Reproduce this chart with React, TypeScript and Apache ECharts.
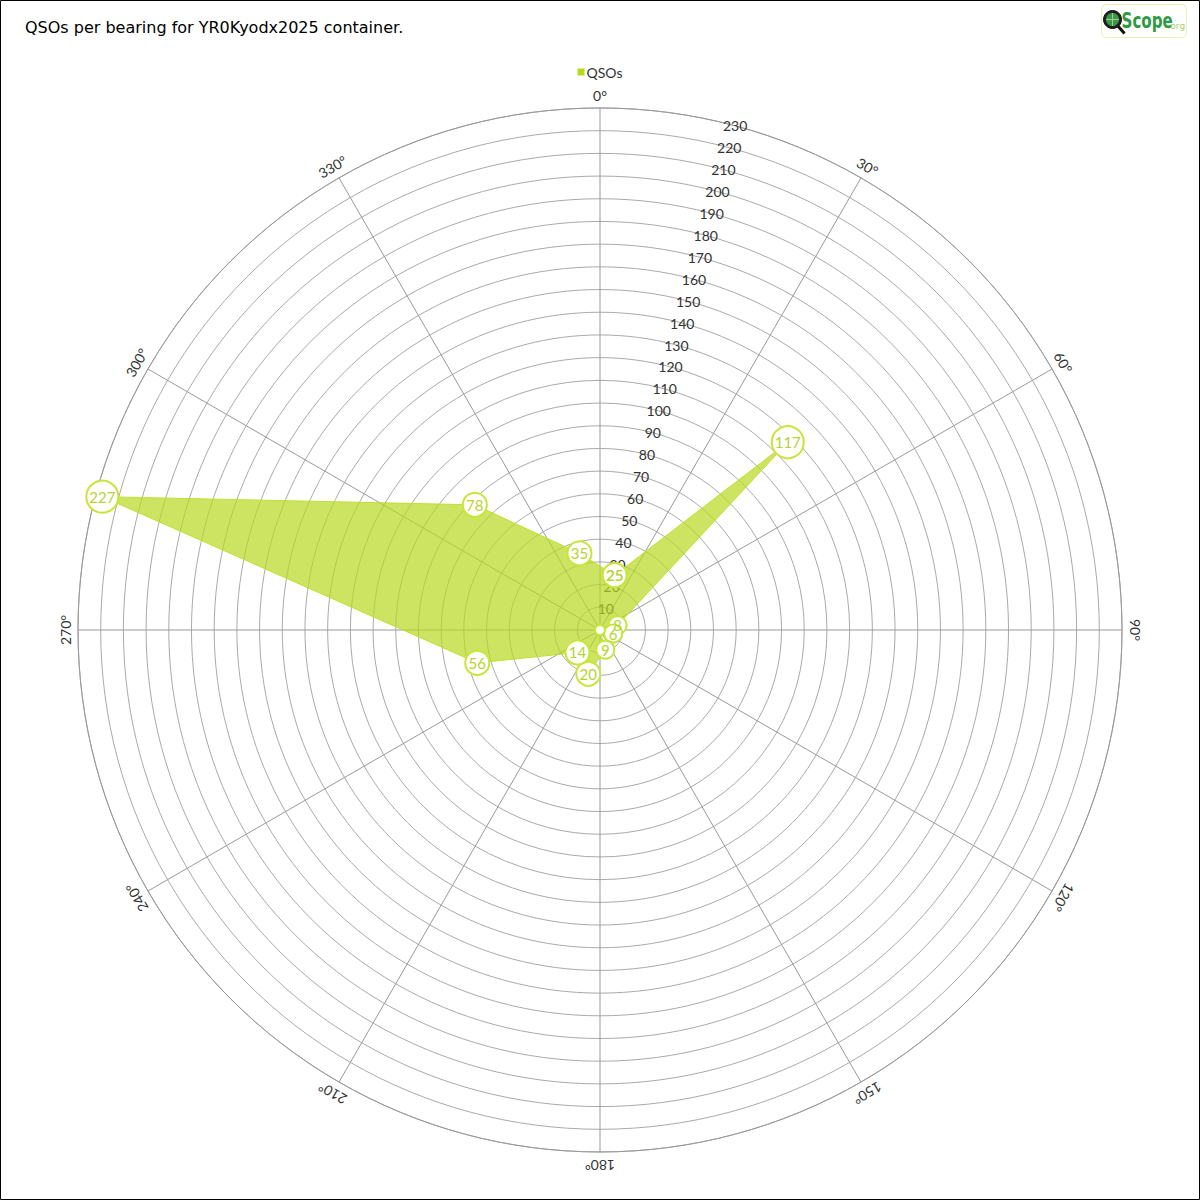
import React, { useEffect, useRef } from "react";
import * as echarts from "echarts";

const titleText = "QSOs per bearing for YR0Kyodx2025 container.";
const seriesName = "QSOs";
const bearings = [15, 45, 75, 105, 135, 165, 195, 225, 255, 285, 315, 345];
const qsos = [25, 117, 8, 6, 0, 9, 20, 14, 56, 227, 78, 35];
const angleTicks = [0, 30, 60, 90, 120, 150, 180, 210, 240, 270, 300, 330];
const radiusMin = 0;
const radiusMax = 230;
const radiusStep = 10;

const FONT = "Lato, 'DejaVu Sans', sans-serif";

function markerSize(v: number): number {
  const n = String(v).length;
  if (v === 0) return 10;
  if (n === 1) return 18;
  if (n === 2) return 24;
  return 32;
}

export default function App() {
  const ref = useRef<HTMLDivElement>(null);
  useEffect(() => {
    document.body.style.margin = "0";
    const chart = echarts.init(ref.current!, null, { renderer: "svg" });
    const data: number[][] = bearings.map((b, i) => [qsos[i], b]);
    data.push([qsos[0], bearings[0]]);
    const labelData = angleTicks.map((a) => [radiusMax, a]);

    const option: any = {
      animation: false,
      backgroundColor: "#ffffff",
      title: {
        text: titleText,
        left: 20,
        top: 14,
        textStyle: { fontFamily: "'DejaVu Sans', sans-serif", fontSize: 16, fontWeight: "normal", color: "#000" },
      },
      legend: {
        data: [{ name: seriesName, itemStyle: { color: "#b7d91e", borderWidth: 0 } }],
        top: 60,
        left: "center",
        icon: "rect",
        itemWidth: 7,
        itemHeight: 7,
        itemGap: 5,
        textStyle: { fontFamily: FONT, fontSize: 14, color: "#333", padding: [0, 0, 0, -3] },
      },
      polar: [
        { center: [600, 630], radius: 522 },
        { center: [600, 630], radius: 522 },
      ],
      angleAxis: [
        {
          polarIndex: 0,
          type: "value",
          min: 0,
          max: 360,
          interval: 30,
          startAngle: 90,
          clockwise: true,
          axisLine: { show: true, lineStyle: { color: "#999", width: 1 } },
          axisTick: { show: false },
          axisLabel: { show: false },
          splitLine: { show: true, lineStyle: { color: "#999", width: 1 } },
        },
        {
          polarIndex: 1,
          type: "value",
          min: 0,
          max: 360,
          interval: 30,
          startAngle: 75,
          clockwise: true,
          show: false,
        },
      ],
      radiusAxis: [
        {
          polarIndex: 0,
          type: "value",
          min: radiusMin,
          max: radiusMax,
          interval: radiusStep,
          axisLine: { show: false },
          axisTick: { show: false },
          axisLabel: { show: false },
          splitLine: { show: true, lineStyle: { color: "#aaa", width: 1 } },
        },
        {
          polarIndex: 1,
          type: "value",
          min: radiusMin,
          max: radiusMax,
          interval: radiusStep,
          axisLine: { show: false },
          axisTick: { show: false },
          splitLine: { show: false },
          axisLabel: {
            show: true,
            margin: 0,
            align: "center",
            verticalAlign: "middle",
            color: "#333",
            fontSize: 14,
            fontFamily: FONT,
          },
        },
      ],
      graphic: [
        {
          type: "rect",
          shape: { x: 0.5, y: 0.5, width: 1199, height: 1199 },
          style: { fill: "none", stroke: "#000", lineWidth: 1 },
          silent: true,
          z: 100,
        },
        {
          type: "group",
          left: 1101,
          top: 4,
          children: [
            { type: "rect", shape: { x: 0, y: 0, width: 85, height: 33, r: 5 }, style: { fill: "#fff", stroke: "#e6f0b8", lineWidth: 1 } },
            { type: "line", shape: { x1: 16, y1: 21, x2: 23, y2: 29 }, style: { stroke: "#111", lineWidth: 3 } },
            { type: "circle", shape: { cx: 11, cy: 15, r: 9 }, style: { fill: "#222", stroke: "#111", lineWidth: 1 } },
            { type: "circle", shape: { cx: 11, cy: 15, r: 6.5 }, style: { fill: "#3a9a4a" } },
            { type: "line", shape: { x1: 11, y1: 8.5, x2: 11, y2: 21.5 }, style: { stroke: "#9fd08a", lineWidth: 1 } },
            { type: "line", shape: { x1: 4.5, y1: 15, x2: 17.5, y2: 15 }, style: { stroke: "#9fd08a", lineWidth: 1 } },
            {
              type: "text",
              x: 20,
              y: 16,
              scaleX: 0.72,
              style: { text: "Scope", fill: "#2e9a44", font: "bold 21px 'DejaVu Sans', sans-serif", verticalAlign: "middle" },
            },
            {
              type: "text",
              x: 66,
              y: 21,
              style: { text: ".org", fill: "#a9d064", font: "9px 'DejaVu Sans', sans-serif", verticalAlign: "middle" },
            },
          ],
        },
      ],
      series: [
        {
          type: "custom",
          coordinateSystem: "polar",
          polarIndex: 0,
          silent: true,
          clip: false,
          data: labelData,
          renderItem: (params: any, api: any) => {
            const r = api.value(0);
            const a = api.value(1);
            const p = api.coord([r, a]);
            const c = api.coord([0, a]);
            const dx = p[0] - c[0];
            const dy = p[1] - c[1];
            const len = Math.hypot(dx, dy) || 1;
            const off = 13;
            return {
              type: "text",
              x: p[0] + (dx / len) * off,
              y: p[1] + (dy / len) * off,
              rotation: (-a * Math.PI) / 180,
              style: {
                text: a + "°",
                align: "center",
                verticalAlign: "middle",
                fill: "#333",
                fontSize: 14,
                fontFamily: FONT,
              },
            };
          },
        },
        {
          type: "line",
          name: seriesName,
          coordinateSystem: "polar",
          polarIndex: 0,
          data,
          symbol: "circle",
          symbolSize: (v: number[]) => markerSize(v[0]),
          lineStyle: { color: "#bfe030", width: 1 },
          itemStyle: { color: "#ffffff", borderColor: "#c8e63a", borderWidth: 2 },
          areaStyle: { color: "#b7d91e", opacity: 0.7 },
          label: {
            show: true,
            position: "inside",
            formatter: (p: any) => (p.value[0] === 0 ? "" : String(p.value[0])),
            color: "#b5d433",
            fontSize: 15,
            fontFamily: FONT,
          },
          z: 3,
        },
      ],
    };
    chart.setOption(option);
    return () => chart.dispose();
  }, []);
  return <div ref={ref} style={{ width: 1200, height: 1200 }} />;
}
